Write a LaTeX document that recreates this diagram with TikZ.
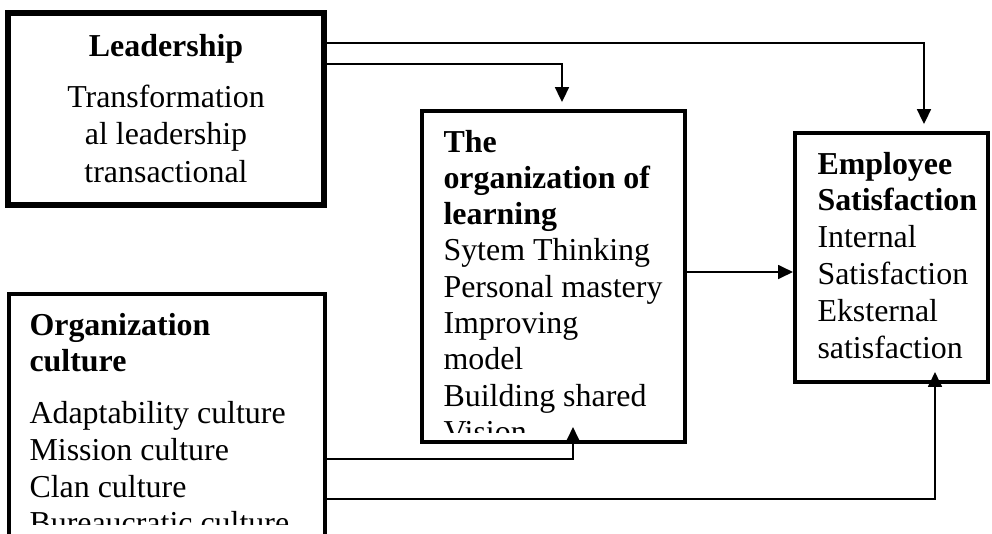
\documentclass[tikz,border=0pt]{standalone}
\usepackage{fontspec}
\setmainfont{Liberation Serif}
\usetikzlibrary{arrows.meta,fit,calc}
\begin{document}
\begin{tikzpicture}[x=0.376pt,y=-0.376pt,
  box/.style={draw,line width=1.5pt,inner sep=0pt},
  thickbox/.style={draw,line width=2.25pt,inner sep=0pt},
  conn/.style={line width=0.75pt,-{Triangle[length=5.6pt,width=5.2pt]}},
  txt/.style={inner sep=0pt}]
\fill[white] (0,0) rectangle (992,534);
\useasboundingbox (0,0) rectangle (992,534);

% boxes
\node[thickbox,fit={(8,13) (324,205)}] (lead) {};
\node[box,fit={(422,111) (685,442)}] (learn) {};
\node[box,fit={(795,133) (988,382)}] (emp) {};
\node[box,fit={(9,294) (325,560)}] (org) {};

% texts
\node[txt,anchor=base,font=\fontsize{12}{14.1}\selectfont] (leadtxt) at (166,56)
  {\begin{tabular}[t]{@{}c@{}}\textbf{Leadership}\\[5.1pt] Transformation\\ al leadership\\ transactional\end{tabular}};

\begin{scope}
\clip (424,113) rectangle (683,432);
\node[txt,anchor=base west,font=\fontsize{12}{13.65}\selectfont] (learntxt) at (443,152)
  {\begin{tabular}[t]{@{}l@{}}\textbf{The}\\ \textbf{organization of}\\ \textbf{learning}\\ Sytem Thinking\\ Personal mastery\\ Improving\\ model\\ Building shared\\ Vision\end{tabular}};
\end{scope}

\node[txt,anchor=base west,font=\fontsize{12}{13.84}\selectfont] (emptxt) at (817,174)
  {\begin{tabular}[t]{@{}l@{}}\textbf{Employee}\\ \textbf{Satisfaction}\\ Internal\\ Satisfaction\\ Eksternal\\ satisfaction\end{tabular}};

\begin{scope}
\clip (11,296) rectangle (323,524);
\node[txt,anchor=base west,font=\fontsize{12}{13.8}\selectfont] (orgtxt) at (29,335)
  {\begin{tabular}[t]{@{}l@{}}\textbf{Organization}\\ \textbf{culture}\\[5.75pt] Adaptability culture\\ Mission culture\\ Clan culture\\ Bureaucratic culture\end{tabular}};
\end{scope}

% connector levels
\coordinate (h1) at (0,42.7);
\coordinate (h2) at (0,63.5);
\coordinate (h3) at (0,272);
\coordinate (h4) at (0,459);
\coordinate (h5) at (0,499);
\coordinate (v1) at (924,0);
\coordinate (v2) at (562,0);
\coordinate (v4) at (573,0);
\coordinate (v5) at (935,0);
\coordinate (t4) at (0,427);
\coordinate (t5) at (0,372);

\draw[conn,shorten >=2.6pt] (lead.east |- h1) -| (v1 |- emp.north);
\draw[conn,shorten >=2.6pt] (lead.east |- h2) -| (v2 |- learn.north);
\draw[conn] (learn.east |- h3) -- (emp.west |- h3);
\draw[conn] (org.east |- h4) -| (v4 |- t4);
\draw[conn] (org.east |- h5) -| (v5 |- t5);
\end{tikzpicture}
\end{document}
